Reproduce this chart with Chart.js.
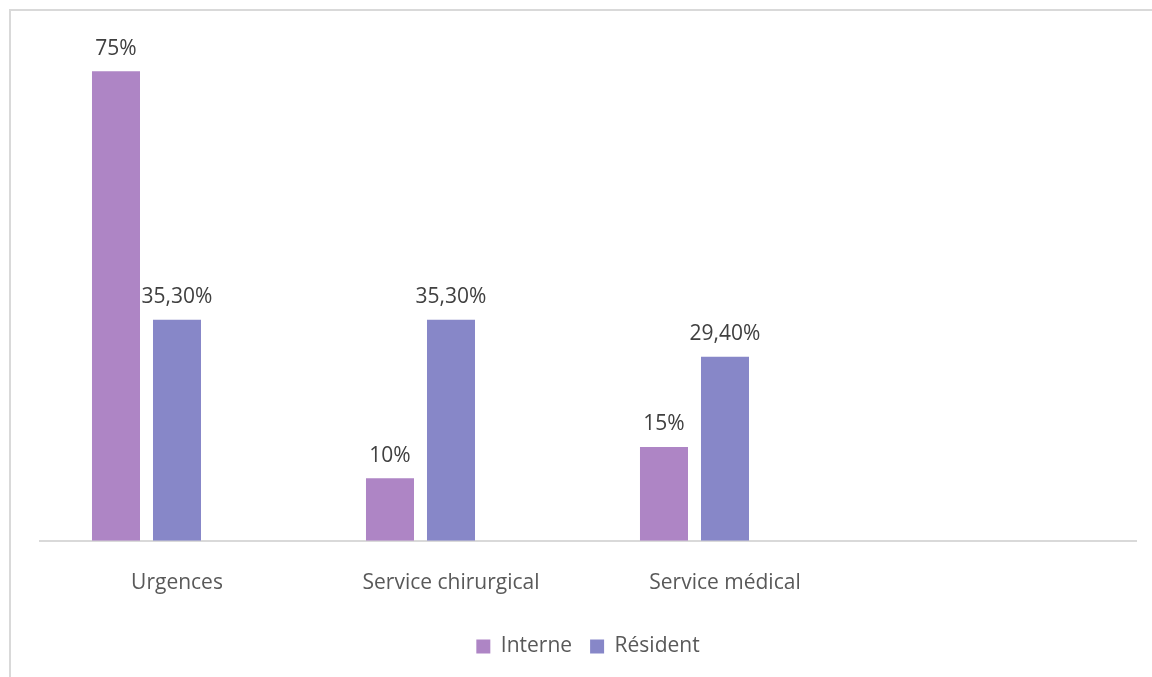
<!DOCTYPE html>
<html>
<head>
<meta charset="utf-8">
<script src="https://cdn.jsdelivr.net/npm/chart.js@4.4.1/dist/chart.umd.min.js"></script>
<style>
  html, body { margin: 0; padding: 0; background: #fff; }
  #cadre {
    position: absolute; left: 9px; top: 9px; width: 1160px; height: 700px;
    border-left: 2px solid #d9d9d9; border-top: 2px solid #d9d9d9;
  }
  #zone { position: absolute; left: 0; top: 0; width: 1152px; height: 677px; }
</style>
</head>
<body>
<div id="cadre"></div>
<div id="zone"><canvas id="grafica"></canvas></div>
<script>
// Données par service (%)
const services = ['Urgences', 'Service chirurgical', 'Service médical', ''];
const interne = [75, 10, 15, null];
const resident = [35.3, 35.3, 29.4, null];
const vide = [null, null, null, null];

const couleurInterne = '#ae85c5';
const couleurResident = '#8787c8';
const police = '"Open Sans"';

// 75 -> "75%", 35.3 -> "35,30%"
function formatPourcent(v) {
    if (Number.isInteger(v)) return v + '%';
    return v.toFixed(2).replace('.', ',') + '%';
}

// Étiquettes de valeur au-dessus des barres
const etiquettes = {
    id: 'etiquettes',
    afterDatasetsDraw(chart) {
        const ctx = chart.ctx;
        ctx.save();
        ctx.font = '21px ' + police;
        ctx.fillStyle = '#404040';
        ctx.textAlign = 'center';
        ctx.textBaseline = 'bottom';
        chart.data.datasets.forEach((ds, i) => {
            if (ds.label === '') return;
            chart.getDatasetMeta(i).data.forEach((bar, j) => {
                const v = ds.data[j];
                if (v === null) return;
                ctx.fillText(formatPourcent(v), bar.x, bar.y - 12);
            });
        });
        ctx.restore();
    }
};

const canvas = document.getElementById('grafica');
new Chart(canvas, {
    type: 'bar',
    data: {
        labels: services,
        datasets: [
            { label: 'Interne', data: interne, backgroundColor: couleurInterne },
            { label: 'Résident', data: resident, backgroundColor: couleurResident },
            { label: '', data: vide, backgroundColor: 'rgba(0,0,0,0)' }
        ]
    },
    options: {
        responsive: true,
        maintainAspectRatio: false,
        animation: false,
        categoryPercentage: 0.668,
        barPercentage: 0.787,
        layout: { padding: { top: 40, left: 40, right: 16, bottom: 10 } },
        plugins: {
            legend: {
                position: 'bottom',
                labels: {
                    filter: item => item.text !== '',
                    boxWidth: 14,
                    boxHeight: 14,
                    color: '#595959',
                    font: { family: police, size: 21 },
                    padding: 18
                }
            },
            tooltip: { enabled: false }
        },
        scales: {
            x: {
                grid: { display: false },
                border: { color: '#d9d9d9', width: 2 },
                ticks: {
                    color: '#595959',
                    font: { family: police, size: 21 },
                    padding: 22,
                    maxRotation: 0
                }
            },
            y: {
                display: false,
                min: 0,
                max: 80
            }
        }
    },
    plugins: [etiquettes]
});
</script>
</body>
</html>
